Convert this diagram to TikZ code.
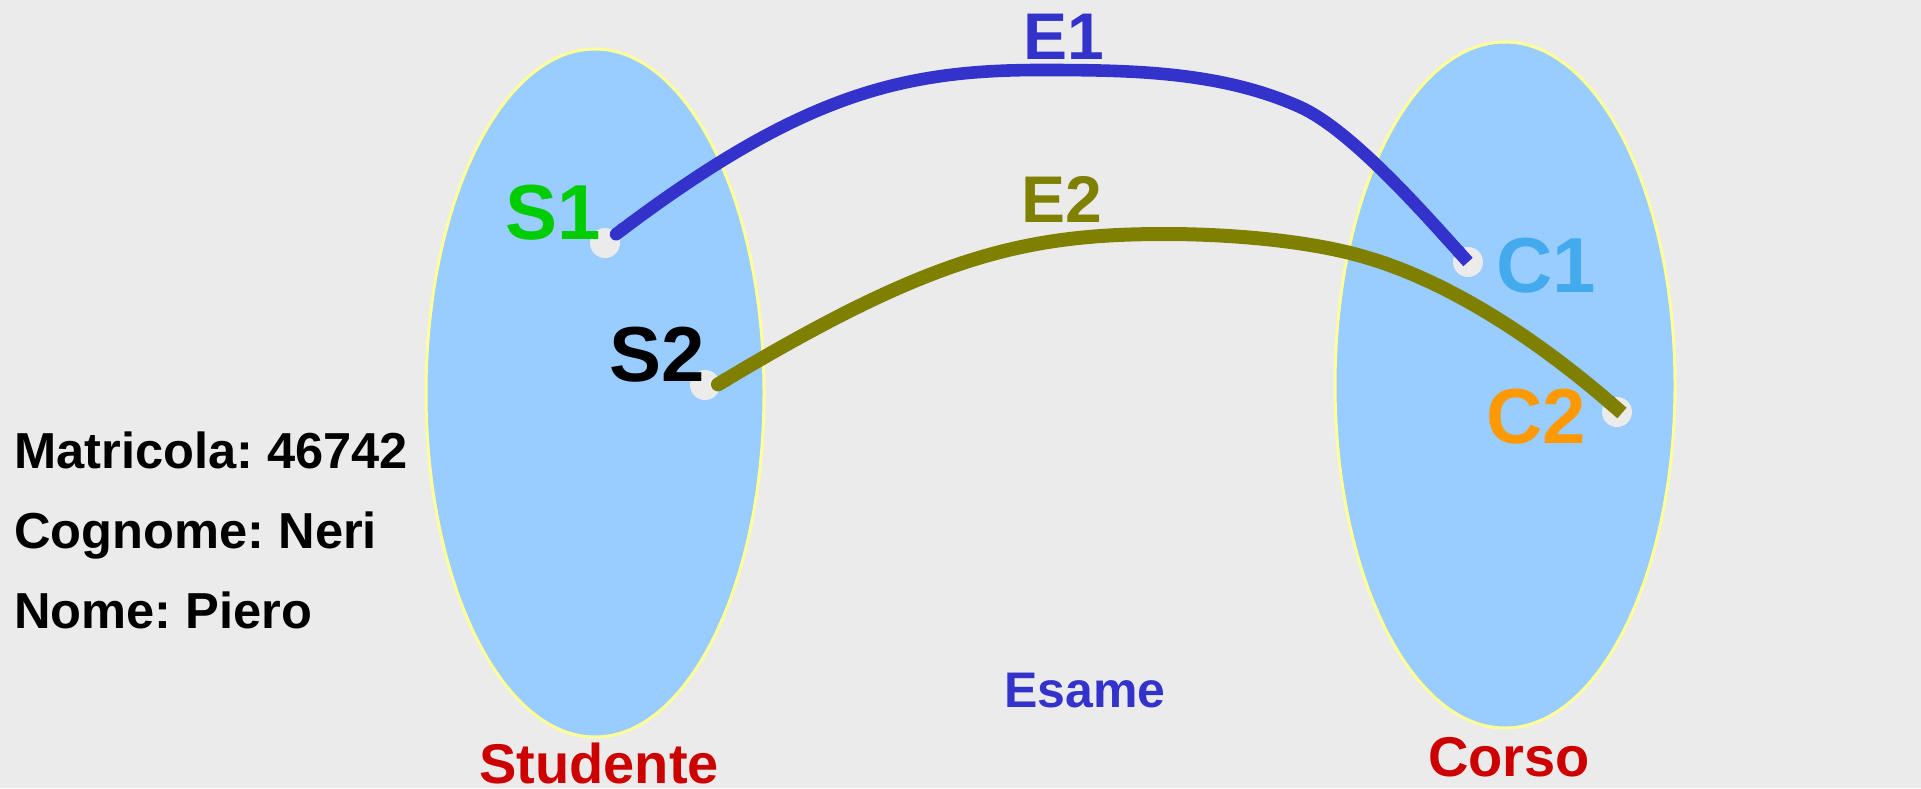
\documentclass[tikz,border=0pt]{standalone}
\usepackage{fontspec}
\setmainfont{Liberation Sans}
\frenchspacing
\usetikzlibrary{arrows.meta,shapes.geometric}
\definecolor{bg}{HTML}{EBEBEB}
\definecolor{setfill}{HTML}{99CCFF}
\definecolor{setline}{HTML}{FFFF99}
\definecolor{dotc}{HTML}{EBEBEB}
\definecolor{eblue}{HTML}{3333CC}
\definecolor{eolive}{HTML}{808000}
\definecolor{sgreen}{HTML}{00CC00}
\definecolor{clblue}{HTML}{44AAEE}
\definecolor{corange}{HTML}{FF9900}
\definecolor{ered}{HTML}{CC0000}
\tikzset{
  setell/.style={draw=setline, line width=1.5, fill=setfill},
  dotnode/.style={ellipse, fill=dotc, minimum width=15pt, minimum height=15pt, inner sep=0},
  lbl/.style={inner sep=0, font=\fontsize{39pt}{39pt}\selectfont\bfseries},
  elbl/.style={inner sep=0, font=\fontsize{33pt}{33pt}\selectfont\bfseries},
  setname/.style={inner sep=0, text=ered, font=\fontsize{28pt}{28pt}\selectfont\bfseries},
  info/.style={inner sep=0, anchor=base west, font=\fontsize{25.3pt}{25.3pt}\selectfont\bfseries},
  link/.style={{Round Cap}-{Butt Cap}},
}
\begin{document}
\begin{tikzpicture}[x=0.5pt,y=-0.5pt]
\fill[bg] (0,0) rectangle (1921,788);
\useasboundingbox (0,0) rectangle (1921,788);
% sets
\path[setell] (595,393) ellipse [x radius=169, y radius=344];
\path[setell] (1505,385) ellipse [x radius=170, y radius=343];
% dots
\node[dotnode] (s1) at (605,243) {};
\node[dotnode] (s2) at (705,385) {};
\node[dotnode] (c1) at (1468,262) {};
\node[dotnode] (c2) at (1617,412) {};
% connector ends and via points
\coordinate (e1start) at ([shift={(6,-5)}]s1.center);
\coordinate (e2start) at ([shift={(7,3)}]s2.center);
\coordinate (e2end) at ([shift={(5,1)}]c2.center);
\coordinate (e1top) at (1040,70);
\coordinate (e1bend) at (1300,107);
\coordinate (e2top) at (1165,234);
\coordinate (e2bend) at (1350,253);
% links
\draw[link, eblue, line width=6.3pt] (e1start)
  .. controls (800,96) and (900,70) .. (e1top)
  .. controls (1130,70) and (1220,71) .. (e1bend)
  .. controls (1350,129.5) and (1421,210) .. (c1.center);
\draw[link, eolive, line width=7pt] (e2start)
  .. controls (932,256) and (1025,234) .. (e2top)
  .. controls (1230,234) and (1300,240.5) .. (e2bend)
  .. controls (1460,280) and (1563,362) .. (e2end);
% labels
\node[lbl, text=sgreen] (s1l) at (553,213) {S1};
\node[lbl, text=black] (s2l) at (657,355) {S2};
\node[lbl, text=clblue] (c1l) at (1546,266) {C1};
\node[lbl, text=corange] (c2l) at (1536,417) {C2};
\node[elbl, text=eblue] (e1l) at (1064,37) {E1};
\node[elbl, text=eolive] (e2l) at (1062,199) {E2};
\node[inner sep=0, text=eblue, font=\fontsize{25pt}{25pt}\selectfont\bfseries] (esame) at (1085,691) {Esame};
\node[setname] (stud) at (599,763) {Studente};
\node[setname] (corso) at (1509,757) {Corso};
\node[info] (matr) at (14,468) {Matricola: 46742};
\node[info] (cogn) at (14,548) {Cognome: Neri};
\node[info] (nome) at (14,628) {Nome: Piero};
\end{tikzpicture}
\end{document}
